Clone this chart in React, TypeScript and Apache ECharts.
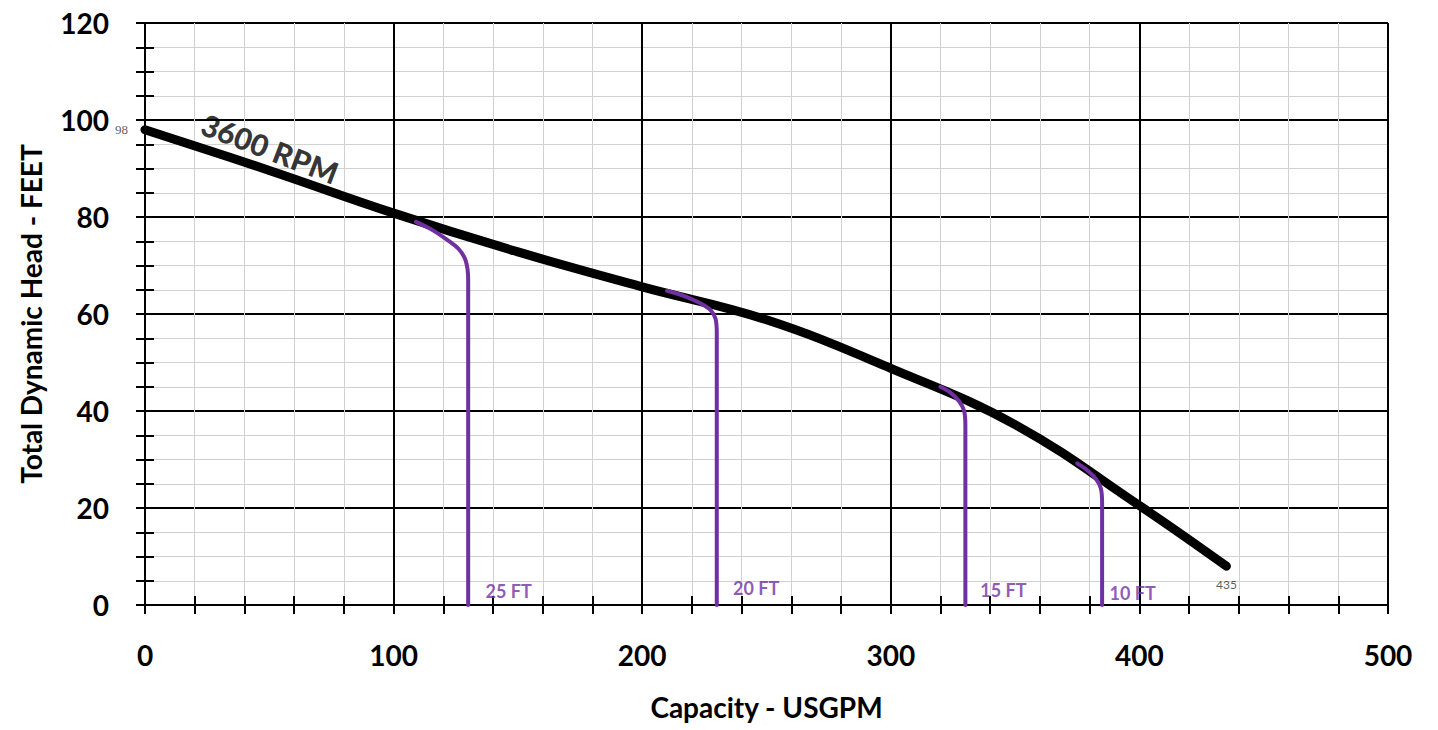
import React, { useEffect, useRef } from "react";
import * as echarts from "echarts";

// Pump curve 3600 RPM
const curveCapacity = [0, 50, 100, 150, 200, 250, 300, 350, 400, 435];
const curveHead = [98, 89.6, 80.8, 72.8, 65.6, 58.8, 48.8, 37.2, 20.5, 8];

// Purple limit curves
const ft25X = [109, 115, 121, 126, 129, 130, 130];
const ft25Y = [79, 77.5, 75.5, 73.5, 71, 67, 0];
const ft20X = [210, 217, 223, 227.5, 229.5, 230, 230];
const ft20Y = [64.8, 63.7, 62.3, 60.8, 59, 56, 0];
const ft15X = [320, 324, 327.5, 329.5, 330, 330];
const ft15Y = [45, 43.8, 42, 40, 37, 0];
const ft10X = [375, 379, 382.5, 384.5, 385, 385];
const ft10Y = [29.2, 27.8, 26, 24, 21, 0];

const ftLabelText = ["25 FT", "20 FT", "15 FT", "10 FT"];
const ftLabelX = [137, 236.5, 336, 388];
const ftLabelY = [2.8, 3.5, 3, 2.5];

const xTickLabels = ["0", "100", "200", "300", "400", "500"];
const yTickLabels = ["0", "20", "40", "60", "80", "100", "120"];

const FONT = "Lato, 'Open Sans', sans-serif";
const PURPLE = "#7030A0";

function zip(xs: number[], ys: number[]) {
  return xs.map((x, i) => [x, ys[i]]);
}

export default function App() {
  const ref = useRef<HTMLDivElement>(null);
  useEffect(() => {
    document.body.style.margin = "0";
    const chart = echarts.init(ref.current!, null, { renderer: "svg" });
    const purpleLine = (name: string, xs: number[], ys: number[]) => ({
      type: "line",
      name,
      data: zip(xs, ys),
      smooth: 0.3,
      symbol: "none",
      lineStyle: { color: PURPLE, width: 4, cap: "round", join: "round" },
      z: 5,
    });
    chart.setOption({
      animation: false,
      backgroundColor: "#fff",
      grid: { left: 145, right: 50, top: 23, bottom: 125 },
      xAxis: [
        {
          type: "value",
          min: 0,
          max: 500,
          interval: 100,
          name: "Capacity - USGPM",
          nameLocation: "middle",
          nameGap: 88,
          nameTextStyle: { fontFamily: FONT, fontWeight: "bold", fontSize: 28, color: "#000" },
          axisLine: { show: true, onZero: false, lineStyle: { color: "#000", width: 2 } },
          axisTick: { show: true, length: 9, lineStyle: { color: "#000", width: 2 } },
          minorTick: { show: true, splitNumber: 5, length: 9, lineStyle: { color: "#000", width: 2 } },
          axisLabel: {
            margin: 36,
            fontFamily: FONT,
            fontWeight: "bold",
            fontSize: 28,
            color: "#000",
            formatter: (v: number) => xTickLabels[Math.round(v / 100)] ?? "",
          },
          splitLine: { show: true, lineStyle: { color: "#000", width: 2 } },
          minorSplitLine: { show: true, lineStyle: { color: "#d2d2d2", width: 1 } },
        },
        {
          type: "value",
          min: 0,
          max: 500,
          interval: 20,
          position: "bottom",
          offset: 0,
          axisLine: { show: false },
          axisTick: { show: true, inside: true, length: 9, lineStyle: { color: "#000", width: 2 } },
          axisLabel: { show: false },
          splitLine: { show: false },
        },
      ],
      yAxis: [
        {
          type: "value",
          min: 0,
          max: 120,
          interval: 20,
          position: "left",
          name: "Total Dynamic Head - FEET",
          nameLocation: "middle",
          nameGap: 100,
          nameTextStyle: { fontFamily: FONT, fontWeight: "bold", fontSize: 28, color: "#000" },
          axisLine: { show: true, onZero: false, lineStyle: { color: "#000", width: 2 } },
          axisTick: { show: true, length: 9, lineStyle: { color: "#000", width: 2 } },
          minorTick: { show: true, splitNumber: 4, length: 9, lineStyle: { color: "#000", width: 2 } },
          axisLabel: {
            margin: 36,
            fontFamily: FONT,
            fontWeight: "bold",
            fontSize: 28,
            color: "#000",
            formatter: (v: number) => yTickLabels[Math.round(v / 20)] ?? "",
          },
          splitLine: { show: true, lineStyle: { color: "#000", width: 2 } },
          minorSplitLine: { show: true, lineStyle: { color: "#d2d2d2", width: 1 } },
        },
        {
          type: "value",
          min: 0,
          max: 120,
          interval: 5,
          position: "left",
          offset: 0,
          axisLine: { show: false },
          axisTick: { show: true, inside: true, length: 9, lineStyle: { color: "#000", width: 2 } },
          axisLabel: { show: false },
          splitLine: { show: false },
        },
      ],
      series: [
        {
          type: "line",
          name: "3600 RPM",
          data: zip(curveCapacity, curveHead),
          smooth: 0.4,
          symbol: "none",
          lineStyle: { color: "#000", width: 9, cap: "round", join: "round" },
          z: 4,
        },
        purpleLine("25 FT", ft25X, ft25Y),
        purpleLine("20 FT", ft20X, ft20Y),
        purpleLine("15 FT", ft15X, ft15Y),
        purpleLine("10 FT", ft10X, ft10Y),
        {
          type: "scatter",
          name: "labels",
          symbolSize: 0,
          silent: true,
          clip: false,
          z: 6,
          data: [
            ...ftLabelText.map((t, i) => ({
              value: [ftLabelX[i], ftLabelY[i]],
              label: {
                show: true,
                formatter: t,
                position: "right",
                distance: 0,
                fontFamily: FONT,
                fontWeight: "bold",
                fontSize: 18,
                color: PURPLE,
              },
            })),
            {
              value: [50.3, 94.2],
              label: {
                show: true,
                formatter: "3600 RPM",
                position: "inside",
                rotate: -21,
                fontFamily: FONT,
                fontWeight: 900,
                fontSize: 30,
                color: "#000",
              },
            },
            {
              value: [curveCapacity[0], curveHead[0]],
              label: {
                show: true,
                formatter: String(curveHead[0]),
                position: "left",
                distance: 17,
                fontFamily: "'Liberation Serif', serif",
                fontSize: 13,
                color: "#333",
              },
            },
            {
              value: [curveCapacity[curveCapacity.length - 1], curveHead[curveHead.length - 1]],
              label: {
                show: true,
                formatter: String(curveCapacity[curveCapacity.length - 1]),
                position: "bottom",
                distance: 12,
                fontFamily: FONT,
                fontSize: 12,
                color: "#333",
              },
            },
          ],
        },
      ],
    });
    return () => chart.dispose();
  }, []);
  return <div ref={ref} style={{ width: 1438, height: 730 }} />;
}
